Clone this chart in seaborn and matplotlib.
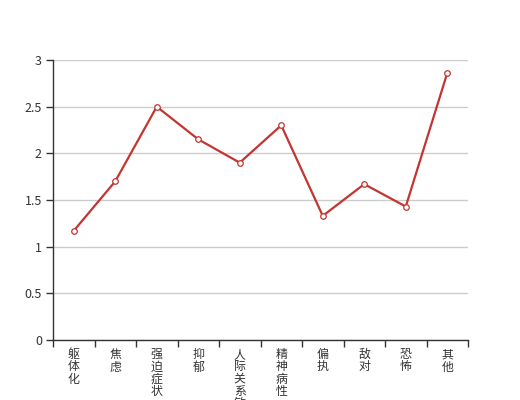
import matplotlib
matplotlib.use("Agg")
import matplotlib.pyplot as plt
import seaborn as sns
import pandas as pd
import numpy as np

categories = ["躯体化", "焦虑", "强迫症状", "抑郁", "人际关系敏感", "精神病性", "偏执", "敌对", "恐怖", "其他"]
values = [1.17, 1.70, 2.50, 2.15, 1.90, 2.30, 1.33, 1.67, 1.43, 2.86]
yticks = [0, 0.5, 1, 1.5, 2, 2.5, 3]
ytick_labels = ["0", "0.5", "1", "1.5", "2", "2.5", "3"]

sns.set_theme(style="white")
plt.rcParams['font.family'] = ['Noto Sans CJK SC', 'DejaVu Sans']

df = pd.DataFrame({"cat": categories, "val": values})

fig = plt.figure(figsize=(5.2, 4), dpi=100)
ax = fig.add_axes([53/520, 60/400, 415/520, 280/400])

sns.lineplot(data=df, x="cat", y="val", ax=ax, color="#c23531", linewidth=1.6,
             marker="o", markersize=4, markerfacecolor="white",
             markeredgecolor="#c23531", markeredgewidth=0.9, sort=False)

n = len(categories)
ax.set_xlim(-0.5, n - 0.5)
ax.set_ylim(0, 3)
ax.set_yticks(yticks)
ax.set_yticklabels(ytick_labels)
ax.set_xticks(np.arange(n))
ax.set_xticklabels(["\n".join(c) for c in categories], linespacing=0.91)
ax.set_xticks(np.arange(n + 1) - 0.5, minor=True)
ax.tick_params(axis="x", which="major", length=0, pad=6, labelsize=8.6, labelcolor="#333333")
ax.tick_params(axis="x", which="minor", length=5, width=1, color="#333333", direction="out", bottom=True)
ax.tick_params(axis="y", length=5, width=1, color="#333333", direction="out", left=True, labelsize=9, labelcolor="#333333", pad=3)
for lbl in ax.get_xticklabels():
    lbl.set_verticalalignment("top")

ax.grid(axis="y", color="#cccccc", linewidth=1)
ax.set_axisbelow(True)
ax.spines["top"].set_visible(False)
ax.spines["right"].set_visible(False)
ax.spines["left"].set_color("#333333")
ax.spines["bottom"].set_color("#333333")
ax.spines["left"].set_linewidth(1)
ax.spines["bottom"].set_linewidth(1)
ax.set_xlabel("")
ax.set_ylabel("")

fig.savefig("out.png", dpi=100)
